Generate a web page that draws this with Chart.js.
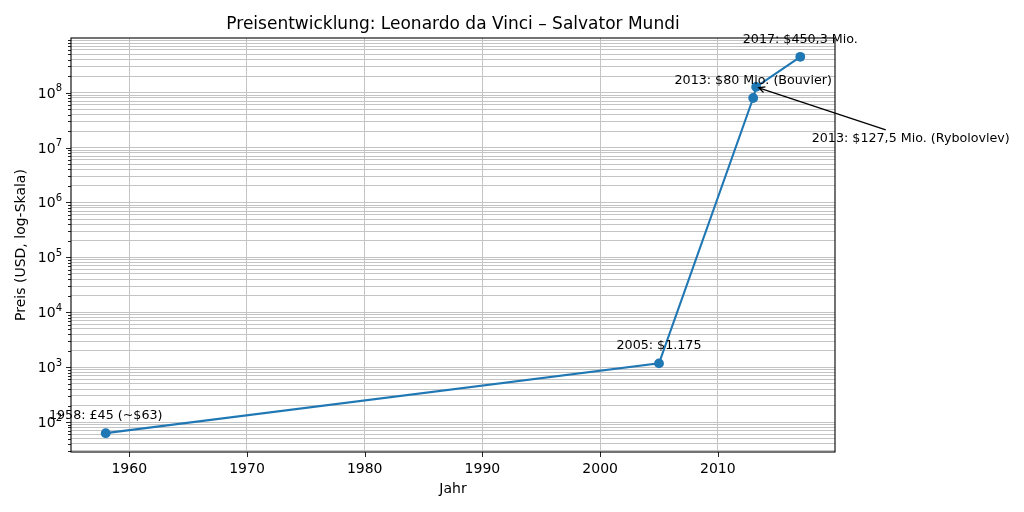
<!DOCTYPE html>
<html>
<head>
<meta charset="utf-8">
<script src="https://cdn.jsdelivr.net/npm/chart.js@4/dist/chart.umd.min.js"></script>
<style>
    html, body { margin: 0; padding: 0; background: #ffffff; }
    #wrap { width: 1024px; height: 512px; }
</style>
</head>
<body>
<div id="wrap"><canvas id="priceChart" width="1024" height="512"></canvas></div>
<script>
// Data
const years = [1958, 2005, 2013, 2013.25, 2017];
const prices = [63, 1175, 80e6, 127.5e6, 450.3e6];
const pointLabels = [
    '1958: £45 (~$63)',
    '2005: $1.175',
    '2013: $80 Mio. (Bouvier)',
    '2013: $127,5 Mio. (Rybolovlev)',
    '2017: $450,3 Mio.'
];
const arrowLabelIndex = 3; // this one sits below-right with an arrow
const xTicks = [1960, 1970, 1980, 1990, 2000, 2010];
const yTickValues = [1e1, 1e2, 1e3, 1e4, 1e5, 1e6, 1e7, 1e8];
const yTickExponents = ['1', '2', '3', '4', '5', '6', '7', '8'];

const titleText = 'Preisentwicklung: Leonardo da Vinci – Salvator Mundi';
const FONT = '"DejaVu Sans", Verdana, sans-serif';
const LINE_COLOR = '#1f77b4';
const GRID_COLOR = '#c4c4c4';

// Spines, tick marks, y tick labels, title and annotations (matplotlib look)
const decorPlugin = {
    id: 'decor',
    afterDraw(chart) {
        const ctx = chart.ctx;
        const area = chart.chartArea;
        const xs = chart.scales.x;
        const ys = chart.scales.y;
        ctx.save();

        // tick marks
        ctx.strokeStyle = '#222';
        ctx.lineWidth = 1;
        ctx.beginPath();
        xs.ticks.forEach(t => {
            const px = Math.round(xs.getPixelForValue(t.value)) + 0.5;
            ctx.moveTo(px, area.bottom);
            ctx.lineTo(px, area.bottom + 5);
        });
        ys.ticks.forEach(t => {
            const py = Math.round(ys.getPixelForValue(t.value)) + 0.5;
            const len = yTickValues.includes(t.value) ? 5 : 3;
            ctx.moveTo(area.left, py);
            ctx.lineTo(area.left - len, py);
        });
        ctx.stroke();

        // y tick labels as 10 with a raised exponent
        ctx.fillStyle = '#000';
        ctx.textBaseline = 'alphabetic';
        ctx.textAlign = 'left';
        yTickValues.forEach((v, k) => {
            if (v < ys.min || v > ys.max) return;
            const py = ys.getPixelForValue(v);
            ctx.font = '10px ' + FONT;
            const we = ctx.measureText(yTickExponents[k]).width;
            ctx.font = '14px ' + FONT;
            const wb = ctx.measureText('10').width;
            const right = area.left - 9;
            ctx.fillText('10', right - we - wb, py + 5);
            ctx.font = '10px ' + FONT;
            ctx.fillText(yTickExponents[k], right - we, py - 1.5);
        });

        // spines
        ctx.strokeStyle = '#000';
        ctx.lineWidth = 1.1;
        ctx.strokeRect(area.left, area.top, area.right - area.left, area.bottom - area.top);

        // title
        ctx.font = '17px ' + FONT;
        ctx.textAlign = 'center';
        ctx.fillText(titleText, (area.left + area.right) / 2, area.top - 9);

        // annotations
        ctx.font = '12.7px ' + FONT;
        pointLabels.forEach((label, i) => {
            const px = xs.getPixelForValue(years[i]);
            const py = ys.getPixelForValue(prices[i]);
            if (i !== arrowLabelIndex) {
                ctx.textAlign = 'center';
                ctx.fillText(label, px, py - 14);
                return;
            }
            // text offset (40pt, -40pt) with an open arrow back to the point
            const tx = px + 55.6;
            const ty = py + 55.6;
            ctx.textAlign = 'left';
            ctx.fillText(label, tx, ty);
            const w = ctx.measureText(label).width;
            const top = ty - 11.8;
            const cx = tx + w / 2;
            const cy = top + (11.8 + 3) / 2;
            const dx = px - cx, dy = py - cy;
            const len = Math.hypot(dx, dy);
            const ux = dx / len, uy = dy / len;
            const t0 = (top - cy) / uy; // where the line leaves the text box
            const sx = cx + ux * (t0 + 2.8), sy = cy + uy * (t0 + 2.8);
            const ex = px - ux * 2.8, ey = py - uy * 2.8;
            ctx.strokeStyle = '#000';
            ctx.lineWidth = 1.3;
            ctx.beginPath();
            ctx.moveTo(sx, sy);
            ctx.lineTo(ex, ey);
            const hl = 6, hw = 3;
            ctx.moveTo(ex - ux * hl - uy * hw, ey - uy * hl + ux * hw);
            ctx.lineTo(ex, ey);
            ctx.lineTo(ex - ux * hl + uy * hw, ey - uy * hl - ux * hw);
            ctx.stroke();
        });
        ctx.restore();
    }
};

const ctx = document.getElementById('priceChart');
new Chart(ctx, {
    type: 'line',
    data: {
        datasets: [{
            data: years.map((x, i) => ({ x: x, y: prices[i] })),
            borderColor: LINE_COLOR,
            backgroundColor: LINE_COLOR,
            borderWidth: 2.1,
            pointRadius: 4.9,
            pointBorderWidth: 0,
            pointBackgroundColor: LINE_COLOR,
            tension: 0,
            clip: false
        }]
    },
    options: {
        responsive: false,
        animation: false,
        devicePixelRatio: 1,
        layout: { padding: { left: 0, right: 189, top: 38, bottom: 0 } },
        plugins: {
            legend: { display: false },
            title: { display: false },
            tooltip: { enabled: false }
        },
        scales: {
            x: {
                type: 'linear',
                bounds: 'data',
                min: 1955.05,
                max: 2019.95,
                afterBuildTicks: axis => {
                    axis.ticks = xTicks.map(v => ({ value: v }));
                },
                afterFit: scale => { scale.height = 60; },
                border: { display: false },
                grid: { color: GRID_COLOR, lineWidth: 1, drawTicks: false },
                ticks: {
                    padding: 9,
                    color: '#000',
                    maxRotation: 0,
                    autoSkip: false,
                    font: { family: FONT, size: 14 },
                    callback: v => String(v)
                },
                title: {
                    display: true,
                    text: 'Jahr',
                    color: '#000',
                    font: { family: FONT, size: 14 },
                    padding: { top: 0, bottom: 14 }
                }
            },
            y: {
                type: 'logarithmic',
                bounds: 'data',
                min: 28.6,
                max: 9.9e8,
                afterBuildTicks: axis => {
                    const ticks = [];
                    yTickValues.forEach(base => {
                        for (let m = 1; m <= 9; m++) {
                            const v = m * base;
                            if (v >= axis.min && v <= axis.max) ticks.push({ value: v, major: m === 1 });
                        }
                    });
                    axis.ticks = ticks;
                },
                afterFit: scale => { scale.width = 71; },
                border: { display: false },
                grid: { color: GRID_COLOR, lineWidth: 1, drawTicks: false },
                ticks: {
                    display: false,
                    autoSkip: false
                },
                title: {
                    display: true,
                    text: 'Preis (USD, log-Skala)',
                    color: '#000',
                    font: { family: FONT, size: 14 },
                    padding: { top: 13, bottom: 0 }
                }
            }
        }
    },
    plugins: [decorPlugin]
});
</script>
</body>
</html>
